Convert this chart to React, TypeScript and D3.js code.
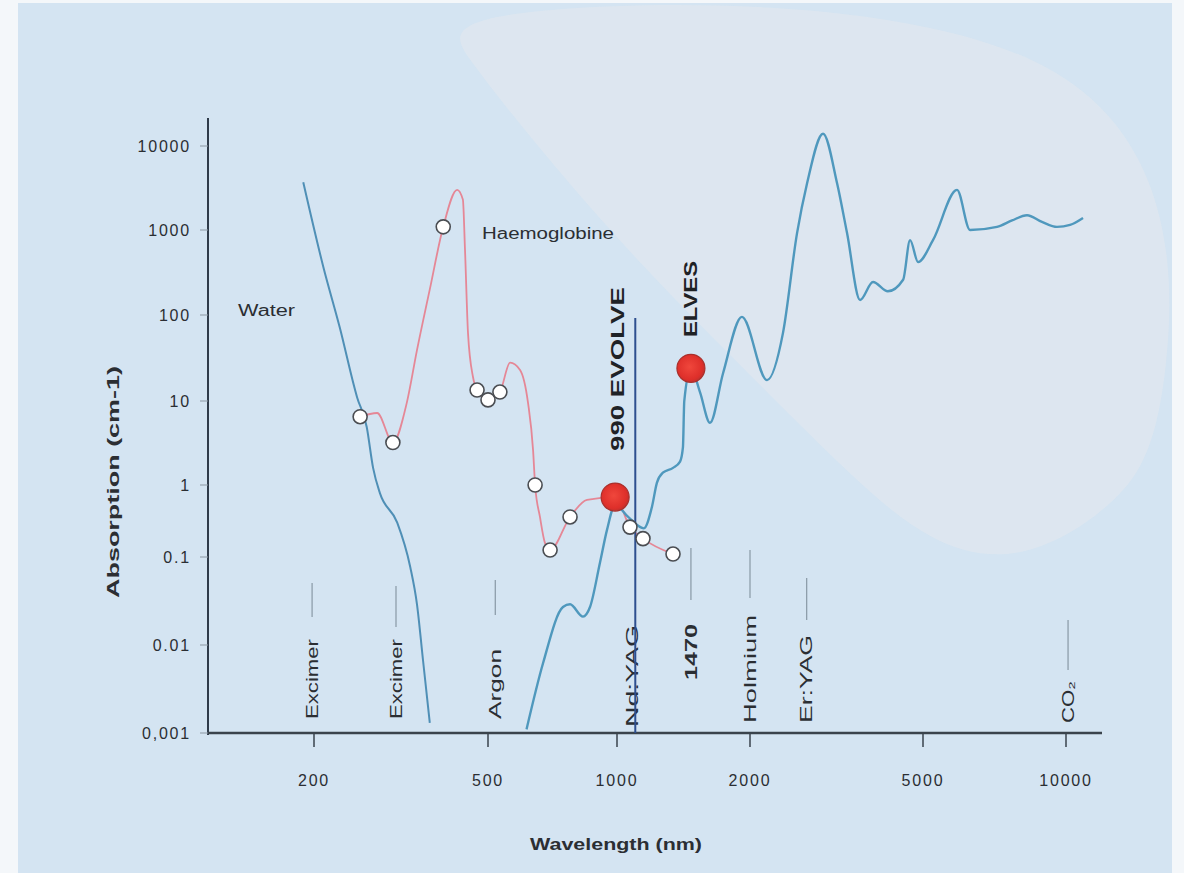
import React from 'react';
import * as d3 from 'd3';

// Absorption of water and haemoglobine vs wavelength (log-log), laser lines marked under the curves.

const yTickValues = [0.001, 0.01, 0.1, 1, 10, 100, 1000, 10000];
const yTickLabels = ['0,001', '0.01', '0.1', '1', '10', '100', '1000', '10000'];
const xTickValues = [200, 500, 1000, 2000, 5000, 10000];
const xTickLabels = ['200', '500', '1000', '2000', '5000', '10000'];

// water, UV branch (nm, cm-1)
const waterUvNm = [189, 210, 229, 251, 264, 273, 283, 310, 332, 344, 355, 368];
const waterUvAbs = [3700, 370, 72, 11, 4.9, 1.6, 0.77, 0.3, 0.077, 0.029, 0.0068, 0.0013];

// water, visible -> far IR branch
const waterIrNm = [
  615, 672, 748, 777, 833, 865, 912, 948, 990, 1060, 1150, 1200, 1231, 1270, 1339, 1389, 1410,
  1420, 1470, 1541, 1624, 1738, 1918, 2189, 2382, 2566, 2706, 2945, 3172, 3344, 3583, 3837,
  4150, 4500, 4669, 4871, 5248, 5896, 6281, 7158, 7700, 8278, 8900, 9573, 10200, 10860,
];
const waterIrAbs = [
  0.0011, 0.0062, 0.027, 0.029, 0.021, 0.027, 0.085, 0.24, 0.53, 0.36, 0.25, 0.5, 1.06, 1.4,
  1.6, 1.9, 2.8, 10, 24, 12.7, 5.5, 21, 95, 17.5, 62, 920, 3600, 14000, 3600, 920, 150, 244,
  190, 260, 760, 420, 760, 3000, 1000, 1090, 1300, 1500, 1250, 1090, 1150, 1390,
];

// haemoglobine
const hbNm = [
  255, 279, 303, 326, 344, 368, 395, 425, 438, 443, 450, 462, 472, 500, 533, 563, 594, 620, 637,
  644, 661, 679, 698, 777, 851, 990, 1070, 1145, 1339,
];
const hbAbs = [
  6.5, 7.2, 3.2, 9.5, 39, 200, 1090, 3000, 2300, 580, 62, 19, 13.4, 10.3, 12.7, 28, 23, 9.5, 2.6,
  1.0, 0.36, 0.157, 0.125, 0.36, 0.62, 0.68, 0.26, 0.18, 0.11,
];
const hbMarkerNm = [255, 303, 395, 472, 500, 533, 644, 698, 777, 1070, 1145, 1339];

// highlighted systems
const highlightNm = [990, 1470];
const highlightAbs = [0.68, 24];
const highlightLabels = ['990 EVOLVE', 'ELVES'];
const evolveLineNm = 1100;
const evolveLineTop = 92;

// laser wavelengths written along the bottom
const laserNm = [198, 308, 520, 1080, 1470, 2000, 2700, 10100];
const laserNames = ['Excimer', 'Excimer', 'Argon', 'Nd:YAG', '1470', 'Holmium', 'Er:YAG', 'CO₂'];

// label layout (px): bottom of rotated text, its length, the short guide line above it
const laserLayout = [
  { bottom: 719, len: 80, lineTop: 583, lineBottom: 617 },
  { bottom: 719, len: 80, lineTop: 586, lineBottom: 627 },
  { bottom: 719, len: 70, lineTop: 580, lineBottom: 615 },
  { bottom: 727, len: 102, lineTop: 0, lineBottom: 0 },
  { bottom: 680, len: 56, lineTop: 548, lineBottom: 600, bold: true },
  { bottom: 723, len: 108, lineTop: 550, lineBottom: 598 },
  { bottom: 723, len: 88, lineTop: 578, lineBottom: 620 },
  { bottom: 723, len: 42, lineTop: 620, lineBottom: 670 },
];

const FONT = '"Liberation Sans", Arial, sans-serif';
const INK = '#2b2e33';

export default function App() {
  const width = 1184;
  const height = 873;

  // axes are slightly uneven in the original print, so both log scales are piecewise
  const x = d3.scaleLog().domain(xTickValues).range([314, 488, 617, 750, 923, 1066]);
  const y = d3.scaleLog().domain(yTickValues).range([733, 645, 557, 485, 401, 315, 230, 146]);

  const line = d3
    .line<[number, number]>()
    .x((d) => x(d[0]))
    .y((d) => y(d[1]))
    .curve(d3.curveMonotoneX);

  const waterUv = waterUvNm.map((n, i) => [n, waterUvAbs[i]] as [number, number]);
  const waterIr = waterIrNm.map((n, i) => [n, waterIrAbs[i]] as [number, number]);
  const hb = hbNm.map((n, i) => [n, hbAbs[i]] as [number, number]);
  const markers = hbMarkerNm.map((n) => [n, hbAbs[hbNm.indexOf(n)]] as [number, number]);

  const axisX0 = 208;
  const axisX1 = 1102;
  const axisY = y(0.001);

  // pale paper blob in the upper right of the scan
  const blob = d3.line().curve(d3.curveBasisClosed)([
    [430, 0],
    [1175, 0],
    [1175, 420],
    [1120, 505],
    [1020, 565],
    [930, 545],
    [850, 475],
    [760, 385],
    [640, 265],
    [540, 150],
    [465, 55],
  ]);

  const stretch = { lengthAdjust: 'spacingAndGlyphs' as const };

  return (
    <svg
      width={width}
      height={height}
      style={{ position: 'absolute', left: 0, top: 0 }}
      fontFamily={FONT}
    >
      <defs>
        <radialGradient id="dot" cx="0.45" cy="0.45" r="0.6">
          <stop offset="0" stopColor="#f0473c" />
          <stop offset="0.75" stopColor="#de2f2a" />
          <stop offset="1" stopColor="#b8312e" />
        </radialGradient>
      </defs>
      <rect width={width} height={height} fill="#f4f7fa" />
      <rect x={18} y={3} width={1154} height={870} fill="#d4e4f2" />
      <path d={blob ?? ''} fill="#e2e8ef" opacity={0.6} />

      {/* axes */}
      <line x1={axisX0} x2={axisX0} y1={118} y2={axisY + 2} stroke="#2f3b4a" strokeWidth={2} />
      <line x1={axisX0} x2={axisX1} y1={axisY} y2={axisY} stroke="#3a434c" strokeWidth={2.5} />

      {yTickValues.map((v, i) => (
        <g key={`yt${v}`}>
          <line x1={200} x2={axisX0} y1={y(v)} y2={y(v)} stroke="#8c98a4" strokeWidth={1} />
          <text
            x={191}
            y={y(v)}
            dy="0.35em"
            textAnchor="end"
            fontSize={16}
            letterSpacing={1.8}
            fill={INK}
          >
            {yTickLabels[i]}
          </text>
        </g>
      ))}

      {xTickValues.map((v, i) => (
        <g key={`xt${v}`}>
          <line x1={x(v)} x2={x(v)} y1={axisY} y2={axisY + 14} stroke="#3a434c" strokeWidth={1.5} />
          <text x={x(v)} y={786} textAnchor="middle" fontSize={16} letterSpacing={1.8} fill={INK}>
            {xTickLabels[i]}
          </text>
        </g>
      ))}

      <text
        transform={`translate(113,482) rotate(-90)`}
        textAnchor="middle"
        dy="0.35em"
        fontSize={17}
        fontWeight="bold"
        textLength={232}
        {...stretch}
        fill={INK}
      >
        Absorption (cm-1)
      </text>
      <text
        x={616}
        y={850}
        textAnchor="middle"
        fontSize={16}
        fontWeight="bold"
        textLength={172}
        {...stretch}
        fill={INK}
      >
        Wavelength (nm)
      </text>

      {/* laser marks */}
      {laserNm.map((n, i) => {
        const L = laserLayout[i];
        const px = x(n);
        return (
          <g key={`laser${i}`}>
            {L.lineBottom > L.lineTop ? (
              <line
                x1={px}
                x2={px}
                y1={L.lineTop}
                y2={L.lineBottom}
                stroke="#8e9eab"
                strokeWidth={1.3}
              />
            ) : null}
            <text
              transform={`translate(${px},${L.bottom}) rotate(-90)`}
              dy="0.36em"
              textAnchor="start"
              fontSize={16}
              fontWeight={L.bold ? 'bold' : 'normal'}
              textLength={L.len}
              {...stretch}
              fill={INK}
            >
              {laserNames[i]}
            </text>
          </g>
        );
      })}

      {/* curves */}
      <path d={line(waterUv) ?? ''} fill="none" stroke="#4f8fb6" strokeWidth={2} />
      <path d={line(hb) ?? ''} fill="none" stroke="#e58796" strokeWidth={1.8} />
      <path d={line(waterIr) ?? ''} fill="none" stroke="#4f98bd" strokeWidth={2.4} />

      <line
        x1={x(evolveLineNm)}
        x2={x(evolveLineNm)}
        y1={y(evolveLineTop)}
        y2={axisY}
        stroke="#2d4f8f"
        strokeWidth={2}
      />

      {markers.map((d) => (
        <circle
          key={`m${d[0]}`}
          cx={x(d[0])}
          cy={y(d[1])}
          r={7}
          fill="#ffffff"
          stroke="#4a4d52"
          strokeWidth={1.6}
        />
      ))}

      {highlightNm.map((n, i) => (
        <circle
          key={`hl${n}`}
          cx={x(n)}
          cy={y(highlightAbs[i])}
          r={14}
          fill="url(#dot)"
          stroke="#a9302c"
          strokeWidth={1.2}
        />
      ))}
      <text
        transform={`translate(${x(highlightNm[0]) + 2},451) rotate(-90)`}
        dy="0.36em"
        fontSize={18}
        fontWeight="bold"
        textLength={164}
        {...stretch}
        fill="#1f2226"
      >
        {highlightLabels[0]}
      </text>
      <text
        transform={`translate(${x(highlightNm[1])},337) rotate(-90)`}
        dy="0.36em"
        fontSize={18}
        fontWeight="bold"
        textLength={76}
        {...stretch}
        fill="#1f2226"
      >
        {highlightLabels[1]}
      </text>

      {/* series labels */}
      <text x={238} y={316} fontSize={16} textLength={57} {...stretch} fill={INK}>
        Water
      </text>
      <text x={482} y={239} fontSize={16} textLength={132} {...stretch} fill={INK}>
        Haemoglobine
      </text>
    </svg>
  );
}
